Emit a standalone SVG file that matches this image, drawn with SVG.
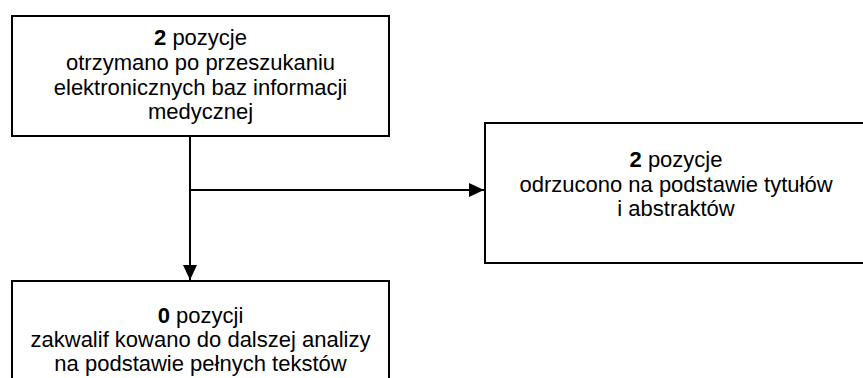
<svg xmlns="http://www.w3.org/2000/svg" width="863" height="378" viewBox="0 0 863 378">
<style>
.box{fill:#fff;stroke:#000;stroke-width:2}
.t{font-family:"Liberation Sans",Arial,sans-serif;font-size:22px;fill:#000;text-anchor:middle}
.b{font-weight:bold}
.c{stroke:#000;stroke-width:2;fill:none}
</style>
<defs>
<marker id="ah" markerUnits="userSpaceOnUse" viewBox="0 0 15 14" refX="15" refY="7" markerWidth="15" markerHeight="14" orient="auto">
<path d="M0,0 L15,7 L0,14 Z" fill="#000"/>
</marker>
</defs>
<g id="connectors">
<path class="c" d="M190,136 V280" marker-end="url(#ah)"/>
<path class="c" d="M190,190 H484" marker-end="url(#ah)"/>
</g>
<g id="node-top">
<rect class="box" x="12" y="16" width="377" height="120"/>
<text class="t" x="200.5" y="45"><tspan class="b">2</tspan> pozycje</text>
<text class="t" x="200.5" y="70">otrzymano po przeszukaniu</text>
<text class="t" x="200.5" y="94.5">elektronicznych baz informacji</text>
<text class="t" x="200.5" y="119">medycznej</text>
</g>
<g id="node-right">
<rect class="box" x="485" y="123" width="382" height="140"/>
<text class="t" x="676" y="167"><tspan class="b">2</tspan> pozycje</text>
<text class="t" x="676" y="191.5">odrzucono na podstawie tytułów</text>
<text class="t" x="676" y="216">i abstraktów</text>
</g>
<g id="node-bottom">
<rect class="box" x="12" y="281" width="377" height="110"/>
<text class="t" x="200.5" y="323"><tspan class="b">0</tspan> pozycji</text>
<text class="t" x="200.5" y="347">zakwalif kowano do dalszej analizy</text>
<text class="t" x="200.5" y="371">na podstawie pełnych tekstów</text>
</g>
</svg>
